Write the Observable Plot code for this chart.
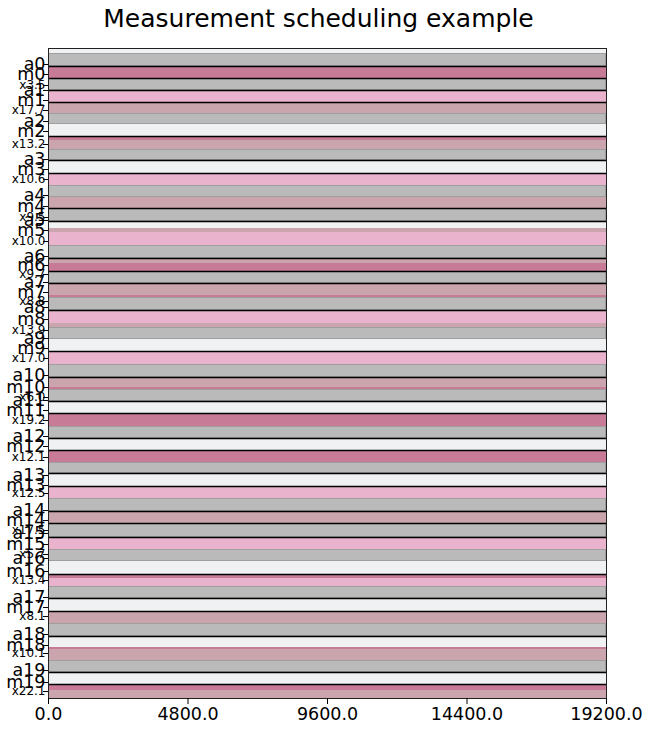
<!DOCTYPE html>
<html><head><meta charset="utf-8">
<script src="https://cdn.jsdelivr.net/npm/d3@7"></script>
<script src="https://cdn.jsdelivr.net/npm/@observablehq/plot@0.6"></script>
<style>html,body{margin:0;padding:0;background:#fff}svg{display:block}</style>
</head><body><div id="chart"></div>
<script>
const title = "Measurement scheduling example";
const xTicks = [0, 4800, 9600, 14400, 19200];
// slot boundaries (top to bottom) and the kind of slot between them
const bandEdges = [0,5,18,30,42,54,65,76,88,92,101,112,125,137,149,160,173,180,184,197,210,215,223,235,247,249,262,275,279,291,303,316,329,339,341,353,365,378,390,402,414,425,438,450,463,475,489,501,513,526,530,538,550,563,575,588,599,601,612,624,636,642,650];
const bandKinds = ["L","G","D","G","P","M","G","L","D","M","G","L","P","G","M","G","L","M","P","G","M","D","G","M","D","G","P","M","G","L","P","G","M","D","G","L","D","G","L","D","G","L","P","G","M","G","P","G","L","D","P","G","L","M","G","L","D","M","G","L","D","M"];
const kindColors = {L: "#f0f1f3", G: "#b9bab9", D: "#c87b97", P: "#e9b2cd", M: "#caa5ad"};
const separators = [18,30,42,54,88,112,125,160,173,210,223,235,262,303,329,353,365,390,402,425,438,463,475,489,526,550,563,588,624,636];
const aTicks = [16,42,73,111,147,172,208,234,259,290,327,352,388,427,462,485,510,549,586,622];
const mTicks = [26,52,83,121,158,182,217,244,271,300,339,362,398,437,472,496,523,559,597,634];
const xTickPos = [37,62,96,131,169,193,226,253,282,310,349,372,409,445,482,506,532,568,605,643];
const factors = ["3.5","17.7","13.2","10.6","9.5","10.0","9.7","8.8","13.9","17.0","6.0","19.2","12.1","12.5","17.5","5.7","13.4","8.1","10.1","22.1"];

const bands = bandKinds.map((k, i) => ({y1: bandEdges[i], y2: bandEdges[i + 1], fill: kindColors[k], kind: k}));
const bigLabels = [
  ...aTicks.map((y, i) => ({y, text: "a" + i})),
  ...mTicks.map((y, i) => ({y, text: "m" + i}))
];
const smallLabels = xTickPos.map((y, i) => ({y, text: "x" + factors[i]}));
const allTicks = [...aTicks, ...mTicks, ...xTickPos];

const chart = Plot.plot({
  width: 649,
  height: 733,
  marginTop: 48,
  marginLeft: 48,
  marginRight: 43,
  marginBottom: 35,
  style: {fontFamily: "DejaVu Sans, sans-serif", color: "black", background: "white"},
  x: {domain: [0, 19200]},
  y: {domain: [0, 650], reverse: true},
  marks: [
    Plot.rect(bands, {y1: "y1", y2: "y2", fill: "fill"}),
    Plot.rect(bands.filter(d => d.kind === "G"), {y1: "y1", y2: "y2", fill: "none", stroke: "#9d9e9d", strokeWidth: 1, inset: 0.5}),
    Plot.ruleY(separators, {stroke: "black", strokeWidth: 1.5}),
    Plot.frame({stroke: "#222", strokeWidth: 1}),
    Plot.axisX({ticks: xTicks, tickFormat: d3.format(".1f"), tickSize: 6, tickPadding: 3, fontSize: 17.5, label: null}),
    Plot.axisY({ticks: allTicks, tickFormat: () => "", tickSize: 5, label: null}),
    Plot.text(bigLabels, {y: "y", text: "text", frameAnchor: "left", textAnchor: "end", lineAnchor: "middle", dx: -3, fontSize: 17.5}),
    Plot.text(smallLabels, {y: "y", text: "text", frameAnchor: "left", textAnchor: "end", lineAnchor: "middle", dx: -3, fontSize: 12}),
    Plot.text([title], {frameAnchor: "top", lineAnchor: "middle", dx: -9, dy: -30, fontSize: 25})
  ]
});
document.getElementById("chart").append(chart);
</script>
</body></html>
